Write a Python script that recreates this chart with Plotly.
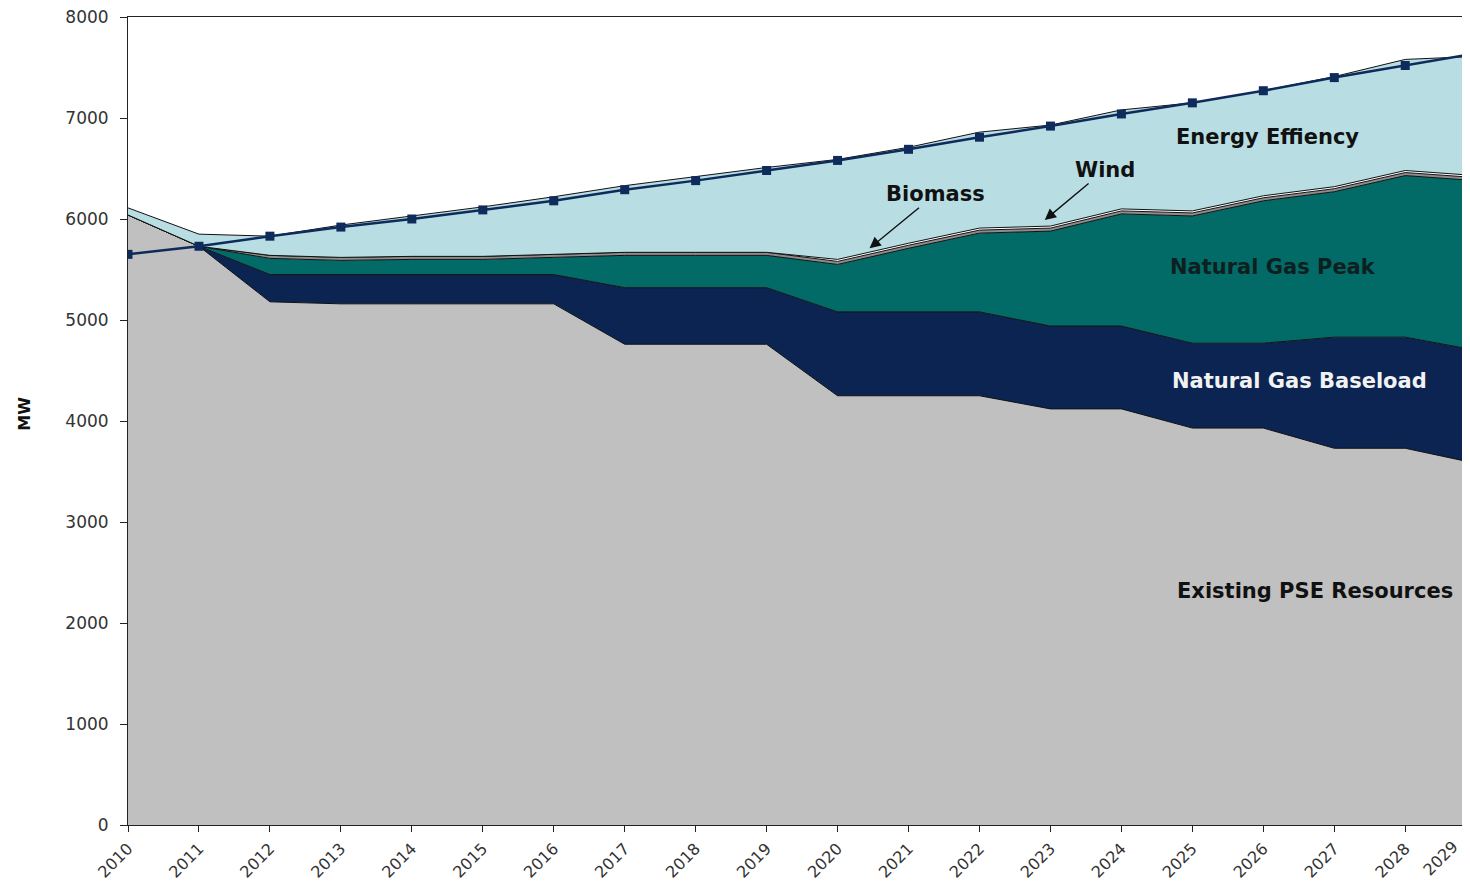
import plotly.graph_objects as go

years = list(range(2010, 2030))
year_labels = [str(y) for y in years]

existing_pse = [6040, 5730, 5180, 5160, 5160, 5160, 5160, 4760, 4760, 4760,
                4250, 4250, 4250, 4120, 4120, 3930, 3930, 3730, 3730, 3580]
ng_baseload = [0, 0, 270, 290, 290, 290, 290, 560, 560, 560,
               830, 830, 830, 820, 820, 840, 840, 1100, 1100, 1120]
ng_peak = [0, 0, 160, 140, 150, 150, 170, 320, 320, 320,
           470, 630, 780, 940, 1110, 1260, 1410, 1440, 1600, 1680]
wind = [0, 0, 30, 30, 30, 30, 30, 30, 30, 30,
        30, 30, 30, 30, 30, 30, 30, 30, 30, 30]
biomass = [0, 0, 0, 0, 0, 0, 0, 0, 0, 0,
           20, 20, 20, 20, 20, 20, 20, 20, 20, 20]
energy_eff = [70, 120, 190, 320, 400, 490, 570, 660, 750, 840,
              990, 950, 950, 1000, 980, 1070, 1040, 1090, 1100, 1180]
load = [5650, 5730, 5830, 5920, 6000, 6090, 6180, 6290, 6380, 6480,
        6580, 6690, 6810, 6920, 7040, 7150, 7270, 7400, 7520, 7640]

series = [
    ("Existing PSE Resources", existing_pse, "#C0C0C0"),
    ("Natural Gas Baseload", ng_baseload, "#0B2452"),
    ("Natural Gas Peak", ng_peak, "#036B67"),
    ("Wind", wind, "#8C8C8C"),
    ("Biomass", biomass, "#FFFFFF"),
    ("Energy Effiency", energy_eff, "#B8DEE4"),
]

fig = go.Figure()
for name, vals, color in series:
    fig.add_trace(go.Scatter(
        x=years, y=vals, name=name, mode="lines", stackgroup="one",
        line=dict(color="#111111", width=1), fillcolor=color,
        hoverinfo="skip"))

fig.add_trace(go.Scatter(
    x=years, y=load, name="Load", mode="lines+markers",
    line=dict(color="#0E2B5C", width=2.5),
    marker=dict(symbol="square", size=9, color="#0E2B5C"),
    hoverinfo="skip"))

label_font = dict(family="DejaVu Sans", size=21, color="#111111")
bold = lambda s: "<b>" + s + "</b>"

X_MAX = 2028.8
annotations = [
    dict(x=2026.06, y=6812, text=bold("Energy Effiency"), showarrow=False, font=label_font),
    dict(x=2026.14, y=5525, text=bold("Natural Gas Peak"), showarrow=False,
         font=dict(family="DejaVu Sans", size=21, color="#0d1f1f")),
    dict(x=2026.51, y=4396, text=bold("Natural Gas Baseload"), showarrow=False,
         font=dict(family="DejaVu Sans", size=21, color="#F2F2F2")),
    dict(x=2026.73, y=2317, text=bold("Existing PSE Resources"), showarrow=False, font=label_font),
    dict(x=2020.45, y=5710, text=bold("Biomass"), showarrow=True, ax=66, ay=-54,
         arrowhead=2, arrowsize=1.6, arrowwidth=1.4, arrowcolor="#111111", font=label_font),
    dict(x=2022.92, y=5990, text=bold("Wind"), showarrow=True, ax=60, ay=-50,
         arrowhead=2, arrowsize=1.6, arrowwidth=1.4, arrowcolor="#111111", font=label_font),
    dict(xref="paper", yref="paper", x=-103 / 1334, xanchor="center", y=0.509,
         text=bold("MW"), showarrow=False, textangle=-90,
         font=dict(family="DejaVu Sans", size=16, color="#111111")),
    dict(xref="paper", yref="paper", x=(2029 - 2010) / (X_MAX - 2010), y=0,
         xanchor="right", yanchor="top", yshift=-9, xshift=-12, text=year_labels[-1],
         showarrow=False, textangle=-45,
         font=dict(family="DejaVu Sans", size=16, color="#333333")),
]

fig.update_layout(
    width=1454, height=878,
    margin=dict(l=120, r=0, t=9, b=61, autoexpand=False),
    paper_bgcolor="white", plot_bgcolor="white",
    showlegend=False,
    annotations=annotations,
    font=dict(family="DejaVu Sans", size=17, color="#333333"),
)
fig.update_xaxes(
    range=[2010, X_MAX], tickmode="array", tickvals=years, ticktext=year_labels,
    tickangle=-45, ticks="outside", ticklen=6, tickcolor="#222222",
    ticklabelstandoff=1, automargin=False,
    showline=True, linecolor="#222222", linewidth=1, mirror=True,
    showgrid=False, zeroline=False,
    tickfont=dict(family="DejaVu Sans", size=16, color="#333333"),
)
fig.update_yaxes(
    range=[0, 8000], tickmode="linear", tick0=0, dtick=1000,
    ticks="outside", ticklen=7, tickcolor="#222222",
    ticklabelstandoff=8, ticklabeloverflow="allow", automargin=False,
    showline=True, linecolor="#222222", linewidth=1,
    showgrid=False, zeroline=False,
    tickfont=dict(family="DejaVu Sans", size=17, color="#333333"),
)

fig.write_html("out.html")
